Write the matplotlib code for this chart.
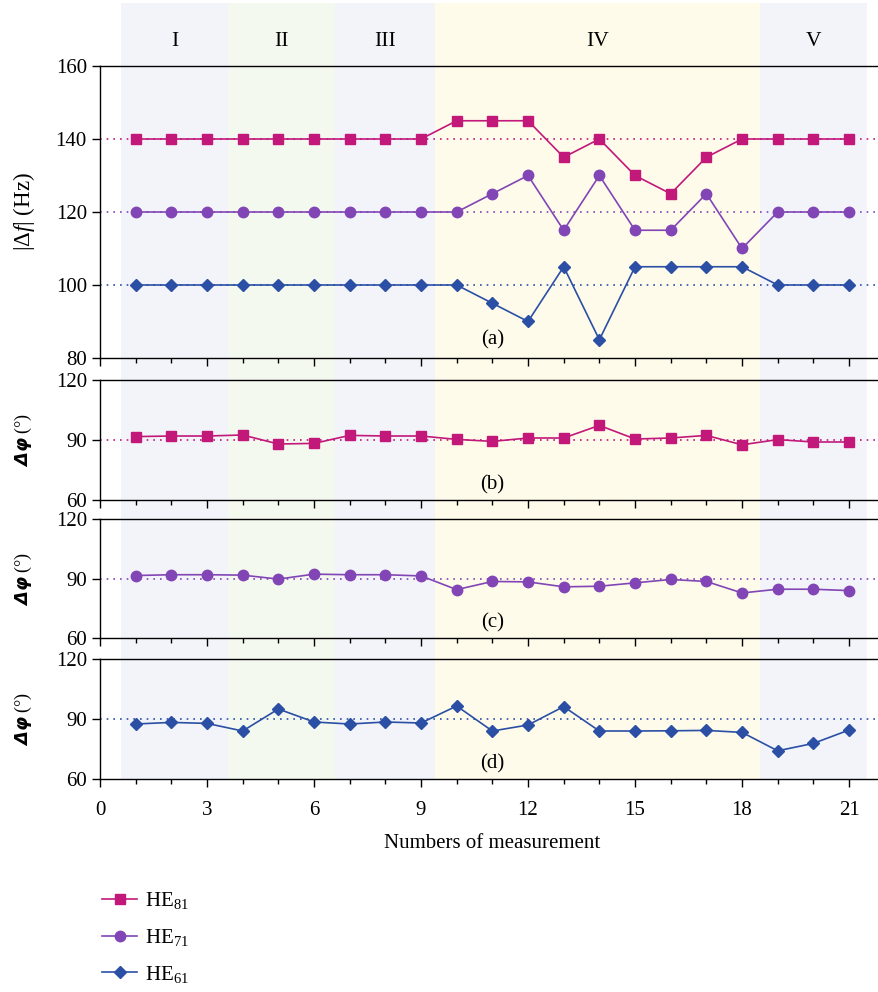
import numpy as np
import matplotlib.pyplot as plt

plt.rcParams['font.family'] = ['Liberation Serif', 'DejaVu Serif']
plt.rcParams['mathtext.fontset'] = 'custom'
plt.rcParams['mathtext.rm'] = 'Liberation Serif'
plt.rcParams['mathtext.it'] = 'Liberation Serif:italic'
plt.rcParams['mathtext.bf'] = 'DejaVu Sans:italic:bold'

# measurement index
meas = np.arange(1, 22)

# (a) |delta f| in Hz
df_he81 = [140, 140, 140, 140, 140, 140, 140, 140, 140, 145, 145, 145, 135, 140, 130, 125, 135, 140, 140, 140, 140]
df_he71 = [120, 120, 120, 120, 120, 120, 120, 120, 120, 120, 125, 130, 115, 130, 115, 115, 125, 110, 120, 120, 120]
df_he61 = [100, 100, 100, 100, 100, 100, 100, 100, 100, 100, 95, 90, 105, 85, 105, 105, 105, 105, 100, 100, 100]

# (b)-(d) phase difference in degrees
ph_he81 = [91.7, 92.0, 92.0, 92.5, 88.0, 88.3, 92.3, 92.0, 92.0, 90.3, 89.3, 91.0, 91.0, 97.3, 90.5, 91.0, 92.3, 87.6, 90.2, 89.0, 89.0]
ph_he71 = [91.5, 91.9, 91.9, 91.7, 89.7, 92.2, 91.9, 91.9, 91.3, 84.4, 88.5, 88.3, 85.8, 86.1, 87.8, 89.5, 88.5, 82.7, 84.6, 84.6, 83.9]
ph_he61 = [87.5, 88.3, 87.8, 84.0, 95.0, 88.5, 87.5, 88.5, 88.0, 96.5, 84.0, 87.0, 96.2, 84.0, 84.0, 84.1, 84.3, 83.3, 74.1, 77.8, 84.5]

# stages
stage_names = ['I', 'II', 'III', 'IV', 'V']
stage_edges = [0.6, 3.6, 6.6, 9.4, 18.5, 21.5]
stage_colors = ['#f3f4fa', '#f4f9f0', '#f3f4fa', '#fefbeb', '#f3f4fa']

c81 = '#c2187a'
c71 = '#8245b5'
c61 = '#2a4fa5'

W, H = 879, 992
fig = plt.figure(figsize=(W / 100, H / 100), dpi=100)

x0, x1 = 100, 879
xmax = 21.84


def axes_px(top, bottom):
    return fig.add_axes([x0 / W, 1 - bottom / H, (x1 - x0) / W, (bottom - top) / H])


# background with stage shading
bg = axes_px(3, 779)
bg.set_xlim(0, xmax)
bg.set_ylim(0, 1)
bg.axis('off')
for i, name in enumerate(stage_names):
    bg.axvspan(stage_edges[i], stage_edges[i + 1], color=stage_colors[i], lw=0)
    bg.text((stage_edges[i] + stage_edges[i + 1]) / 2, 1 - 38 / 776, name,
            ha='center', va='center', fontsize=15.5)

panels = [
    (66, 358, (80, 160), [80, 100, 120, 140, 160], '(a)', 85),
    (380, 500, (60, 120), [60, 90, 120], '(b)', 67.5),
    (519, 638, (60, 120), [60, 90, 120], '(c)', 67.5),
    (659, 779, (60, 120), [60, 90, 120], '(d)', 67.5),
]

axes = []
for top, bottom, ylim, yticks, tag, ty in panels:
    ax = axes_px(top, bottom)
    ax.set_facecolor('none')
    ax.set_xlim(0, xmax)
    ax.set_ylim(*ylim)
    ax.set_yticks(yticks)
    ax.set_xticks(np.arange(0, 22, 3))
    ax.set_xticks(np.arange(0, 22, 1), minor=True)
    ax.spines['right'].set_visible(False)
    for s in ['left', 'top', 'bottom']:
        ax.spines[s].set_linewidth(1.0)
    ax.tick_params(axis='both', which='major', direction='out', length=6, width=1.0, labelsize=15)
    ax.tick_params(axis='x', which='minor', direction='out', length=3.5, width=1.0)
    ax.tick_params(axis='x', labelbottom=False)
    ax.text(11, ty, tag, ha='center', va='center', fontsize=15)
    axes.append(ax)

ax_a, ax_b, ax_c, ax_d = axes

# (a)
for ref, c in [(140, c81), (120, c71), (100, c61)]:
    ax_a.axhline(ref, color=c, ls=(0, (1, 3)), lw=1.2, zorder=1)
l81, = ax_a.plot(meas, df_he81, color=c81, marker='s', ms=7, lw=1.2, label='HE$_{81}$', zorder=3)
l71, = ax_a.plot(meas, df_he71, color=c71, marker='o', ms=7.5, lw=1.2, label='HE$_{71}$', zorder=3)
l61, = ax_a.plot(meas, df_he61, color=c61, marker='D', ms=6.5, lw=1.2, label='HE$_{61}$', zorder=3)
ax_a.set_ylabel(r'$|\mathit{\Delta f}|$ (Hz)', fontsize=16.5)
ax_a.yaxis.set_label_coords(-0.081, 0.5)

# (b)-(d)
for ax, vals, c, m, ms in [(ax_b, ph_he81, c81, 's', 7), (ax_c, ph_he71, c71, 'o', 7.5),
                           (ax_d, ph_he61, c61, 'D', 6.5)]:
    ax.axhline(90, color=c, ls=(0, (1, 3)), lw=1.2, zorder=1)
    ax.plot(meas, vals, color=c, marker=m, ms=ms, lw=1.2, zorder=3)
    ax.set_ylabel(r'$\mathbf{\Delta\varphi}$ (°)', fontsize=13)
    ax.yaxis.set_label_coords(-0.085, 0.5)

ax_d.tick_params(axis='x', labelbottom=True, pad=10)
ax_d.set_xlabel('Numbers of measurement', fontsize=15)
ax_d.xaxis.set_label_coords(11 / xmax, -0.46)

fig.legend(handles=[l81, l71, l61], loc='upper left', bbox_to_anchor=(92 / W, 1 - 880 / H),
           frameon=False, fontsize=15, borderpad=0, handlelength=1.65,
           labelspacing=0.75, handletextpad=0.4)

fig.savefig('out.png', dpi=100)
